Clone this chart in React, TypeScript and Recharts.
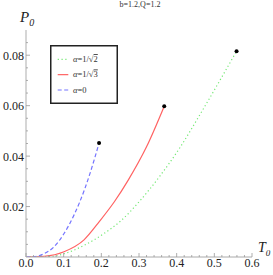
import React from "react";
import { LineChart, Line, XAxis, YAxis, Legend } from "recharts";

const chartTitle = "b=1.2,Q=1.2";

// alpha = 1/sqrt(2), green dotted
const greenT = [0, 0.066, 0.101, 0.154, 0.207, 0.253, 0.302, 0.355, 0.408, 0.462, 0.559];
const greenP = [0, 0.0002, 0.0013, 0.0046, 0.0093, 0.0145, 0.0222, 0.032, 0.0432, 0.0565, 0.0816];

// alpha = 1/sqrt(3), red solid
const redT = [0, 0.048, 0.101, 0.154, 0.196, 0.235, 0.271, 0.32, 0.367];
const redP = [0, 0.0003, 0.0021, 0.0068, 0.0143, 0.022, 0.0304, 0.0437, 0.0598];

// alpha = 0, blue dashed
const blueT = [0, 0.021, 0.048, 0.074, 0.101, 0.127, 0.156, 0.183, 0.194];
const blueP = [0, 0.0001, 0.0013, 0.004, 0.0093, 0.0165, 0.027, 0.0395, 0.0452];

const xMajor = [0, 0.1, 0.2, 0.3, 0.4, 0.5, 0.6];
const xMinor = [0.02, 0.04, 0.06, 0.08, 0.12, 0.14, 0.16, 0.18, 0.22, 0.24, 0.26, 0.28, 0.32, 0.34, 0.36, 0.38, 0.42, 0.44, 0.46, 0.48, 0.52, 0.54, 0.56, 0.58];
const yMajor = [0.02, 0.04, 0.06, 0.08];
const yMinor = [0.005, 0.01, 0.015, 0.025, 0.03, 0.035, 0.045, 0.05, 0.055, 0.065, 0.07, 0.075, 0.085];

const toRows = (t: number[], p: number[]) => t.map((v, i) => ({ t: v, p: p[i] }));

const series = [
  { name: "green", label: "2", data: toRows(greenT, greenP), color: "#74e874", dash: "1.2 2.6", sqrt: true },
  { name: "red", label: "3", data: toRows(redT, redP), color: "#ff6262", dash: undefined, sqrt: true },
  { name: "blue", label: "0", data: toRows(blueT, blueP), color: "#7474ff", dash: "4 2.5", sqrt: false },
];

const serif = "'Liberation Serif', 'DejaVu Serif', serif";

function XTick(props: any) {
  const { x, y, payload } = props;
  const v = payload.value;
  const major = xMajor.some((m) => Math.abs(m - v) < 1e-9);
  return (
    <g>
      <line x1={x} y1={y} x2={x} y2={y - (major ? 4 : 2)} stroke="#999" strokeWidth={0.8} />
      {major && (
        <text x={x} y={y + 10} textAnchor="middle" fontSize={12} fontFamily={serif} fill="#222">
          {v.toFixed(1)}
        </text>
      )}
    </g>
  );
}

function YTick(props: any) {
  const { x, y, payload } = props;
  const v = payload.value;
  const major = yMajor.some((m) => Math.abs(m - v) < 1e-9);
  return (
    <g>
      <line x1={x} y1={y} x2={x + (major ? 4 : 2)} y2={y} stroke="#999" strokeWidth={0.8} />
      {major && (
        <text x={x - 2} y={y + 4.5} textAnchor="end" fontSize={12} fontFamily={serif} fill="#222">
          {v.toFixed(2)}
        </text>
      )}
    </g>
  );
}

function LegendBox() {
  return (
    <svg width={68} height={60}>
      <rect x={0.75} y={0.75} width={66.5} height={57.5} fill="#fff" stroke="#222" strokeWidth={1.5} />
      {series.map((s, i) => {
        const y = 14.3 + 15.35 * i;
        return (
          <g key={s.name}>
            <line x1={7.7} y1={y} x2={18.3} y2={y} stroke={s.color} strokeWidth={1.2} strokeDasharray={s.dash} />
            <text x={23} y={y + 2.8} fontSize={8.5} fontFamily={serif} fill="#333">
              <tspan fontStyle="italic">α</tspan>
              {s.sqrt ? "=1/√" : "="}
              <tspan style={{ textDecoration: s.sqrt ? "overline" : "none" }}>{s.label}</tspan>
            </text>
          </g>
        );
      })}
    </svg>
  );
}

export default function App() {
  return (
    <div style={{ position: "absolute", left: 0, top: 0, width: 273, height: 275, background: "#fff" }}>
      <LineChart width={273} height={275} margin={{ top: 30, right: 21, bottom: 0, left: 0 }}>
        <XAxis
          type="number"
          dataKey="t"
          domain={[0, 0.6]}
          ticks={[...xMajor, ...xMinor].sort((a, b) => a - b)}
          interval={0}
          height={18}
          tickSize={0}
          tickMargin={0}
          tickLine={false}
          tick={<XTick />}
          axisLine={{ stroke: "#aaa", strokeWidth: 1 }}
          allowDataOverflow
        />
        <YAxis
          type="number"
          domain={[0, 0.09]}
          ticks={[...yMajor, ...yMinor].sort((a, b) => a - b)}
          interval={0}
          width={26}
          tickSize={0}
          tickMargin={0}
          tickLine={false}
          tick={<YTick />}
          axisLine={{ stroke: "#bbb", strokeWidth: 1.2 }}
          allowDataOverflow
        />
        <Legend
          layout="vertical"
          align="center"
          verticalAlign="middle"
          wrapperStyle={{ left: 50, top: 45, width: 68, height: 60 }}
          content={() => <LegendBox />}
        />
        {series.map((s) => (
          <Line
            key={s.name}
            data={s.data}
            dataKey="p"
            type="monotone"
            stroke={s.color}
            strokeWidth={1.2}
            strokeDasharray={s.dash}
            isAnimationActive={false}
            dot={(d: any) =>
              d.index === s.data.length - 1 ? (
                <circle key={`${s.name}-end`} cx={d.cx} cy={d.cy} r={2} fill="#000" />
              ) : (
                <g key={`${s.name}-${d.index}`} />
              )
            }
            activeDot={false}
          />
        ))}
      </LineChart>
      <div style={{ position: "absolute", left: 0, top: 0, width: 280, textAlign: "center", fontFamily: serif, fontSize: 8, color: "#333", lineHeight: "10px" }}>
        {chartTitle}
      </div>
      <div style={{ position: "absolute", left: 20, top: 8, fontFamily: serif, fontStyle: "italic", fontSize: 15, color: "#222", lineHeight: "18px" }}>
        P<sub style={{ fontSize: 10 }}>0</sub>
      </div>
      <div style={{ position: "absolute", left: 258, top: 240, fontFamily: serif, fontStyle: "italic", fontSize: 14, color: "#222", lineHeight: "16px" }}>
        T<sub style={{ fontSize: 9 }}>0</sub>
      </div>
    </div>
  );
}
